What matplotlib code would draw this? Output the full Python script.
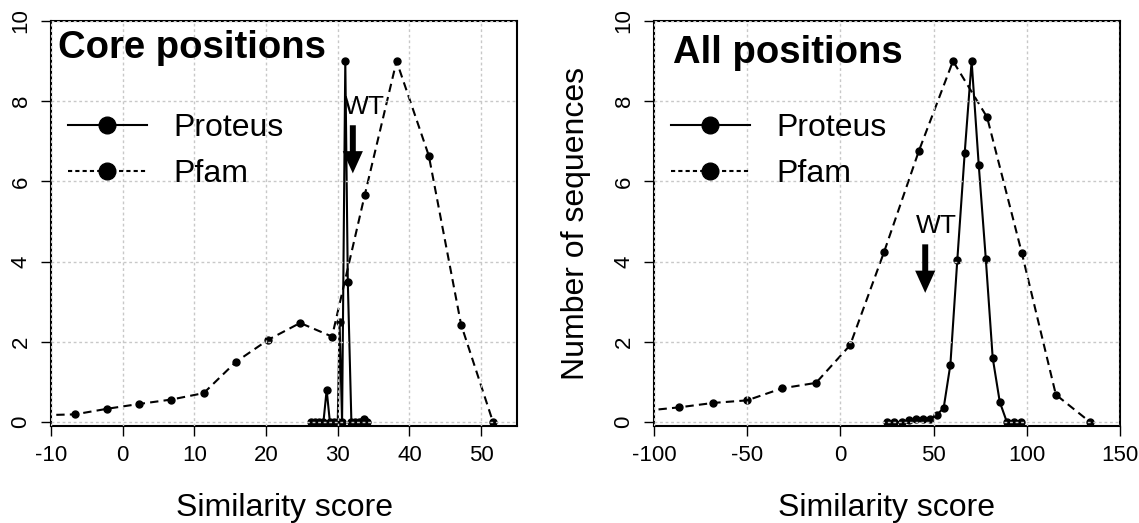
import matplotlib
matplotlib.use("Agg")
import matplotlib.pyplot as plt
from matplotlib.lines import Line2D

plt.rcParams['font.family'] = ['Liberation Sans', 'DejaVu Sans']
plt.rcParams['axes.unicode_minus'] = False

# Core positions
core_pfam_x = [-11.15, -6.65, -2.15, 2.3, 6.8, 11.3, 15.8, 20.3, 24.75, 29.2, 33.75, 38.2, 42.7, 47.2, 51.65]
core_pfam_y = [0.17, 0.19, 0.33, 0.45, 0.56, 0.72, 1.5, 2.05, 2.47, 2.13, 5.65, 9.0, 6.64, 2.43, 0.0]
core_prot_x = [26.2, 26.8, 27.4, 28.0, 28.45, 28.9, 29.5, 30.0, 30.25, 30.6, 31.05, 31.4, 31.9, 32.4, 32.9, 33.3, 33.7, 34.1]
core_prot_y = [0, 0, 0, 0, 0.8, 0, 0, 0, 2.5, 0, 9.0, 3.5, 0, 0, 0, 0, 0.08, 0]
core_wt = 32.1

# All positions
all_pfam_x = [-104.8, -86.6, -68.3, -50.0, -31.3, -13.1, 5.2, 23.5, 42.1, 60.4, 78.7, 97.3, 115.6, 133.9]
all_pfam_y = [0.28, 0.365, 0.475, 0.54, 0.84, 0.975, 1.915, 4.25, 6.76, 9.0, 7.6, 4.22, 0.68, 0.0]
all_prot_x = [24.9, 28.9, 32.8, 36.6, 40.3, 44.1, 47.9, 51.8, 55.4, 59.0, 62.7, 66.7, 70.4, 74.2, 78.0, 81.7, 85.5, 89.3, 93.0, 96.8]
all_prot_y = [0, 0, 0, 0.05, 0.07, 0.07, 0.08, 0.18, 0.35, 1.43, 4.03, 6.72, 9.0, 6.42, 4.07, 1.6, 0.5, 0.0, 0.0, 0.0]
all_wt = 45.5

W, H = 1139, 523
fig = plt.figure(figsize=(W / 100, H / 100), dpi=100)
ax1 = fig.add_axes([51 / W, 97 / H, 466 / W, 405 / H])
ax2 = fig.add_axes([654 / W, 97 / H, 466 / W, 405 / H])


def draw_panel(ax, px, py, fx, fy, wt, wt_y, title, tx, ty, xlim, xticks):
    ax.plot(px, py, color='black', lw=1.5, marker='o', ms=5)
    ax.plot(fx, fy, color='black', lw=1.5, ls=(0, (4, 2.5)), marker='o', ms=5)
    ax.set_xlim(*xlim)
    ax.set_ylim(-0.1, 10)
    ax.set_xticks(xticks)
    ax.set_yticks([0, 2, 4, 6, 8, 10])
    ax.tick_params(direction='out', length=7, width=1, labelsize=16, pad=7)
    for lab in ax.get_yticklabels():
        lab.set_rotation(90)
        lab.set_va('center')
    ax.set_axisbelow(False)
    ax.grid(color='#c8c8c8', ls=(0, (2, 2)), lw=1)
    for s in ax.spines.values():
        s.set_linewidth(1.5)
    ax.set_xlabel('Similarity score', fontsize=23, labelpad=19)
    ax.text(tx, ty, title, transform=ax.transAxes, fontsize=27.5,
            fontweight='bold', va='baseline', ha='left')
    # WT arrow
    top, tip = wt_y
    ax.annotate('', xy=(wt, tip), xytext=(wt, top),
                arrowprops=dict(facecolor='black', edgecolor='black', lw=0,
                                width=4.3, headwidth=14.5, headlength=16, shrink=0))
    span = xlim[1] - xlim[0]
    ax.text(wt + span * 0.025, top + 0.45, 'WT', fontsize=19, ha='center', va='center')
    handles = [Line2D([], [], color='black', lw=1.5, marker='o', ms=12),
               Line2D([], [], color='black', lw=1.5, ls=(0, (2, 1.5)), marker='o', ms=12)]
    ax.legend(handles, ['Proteus', 'Pfam'], loc='upper left',
              bbox_to_anchor=(0.008, 0.805), frameon=False, fontsize=23,
              handlelength=2.5, handletextpad=0.8, labelspacing=0.5,
              borderaxespad=0.0)


draw_panel(ax1, core_prot_x, core_prot_y, core_pfam_x, core_pfam_y, core_wt, (7.4, 6.2),
           'Core positions', 0.015, 0.909, (-10, 55), [-10, 0, 10, 20, 30, 40, 50])
draw_panel(ax2, all_prot_x, all_prot_y, all_pfam_x, all_pfam_y, all_wt, (4.43, 3.22),
           'All positions', 0.041, 0.896, (-100, 150), [-100, -50, 0, 50, 100, 150])
ax2.set_ylabel('Number of sequences', fontsize=23, labelpad=16)

fig.savefig('out.png', dpi=100)
